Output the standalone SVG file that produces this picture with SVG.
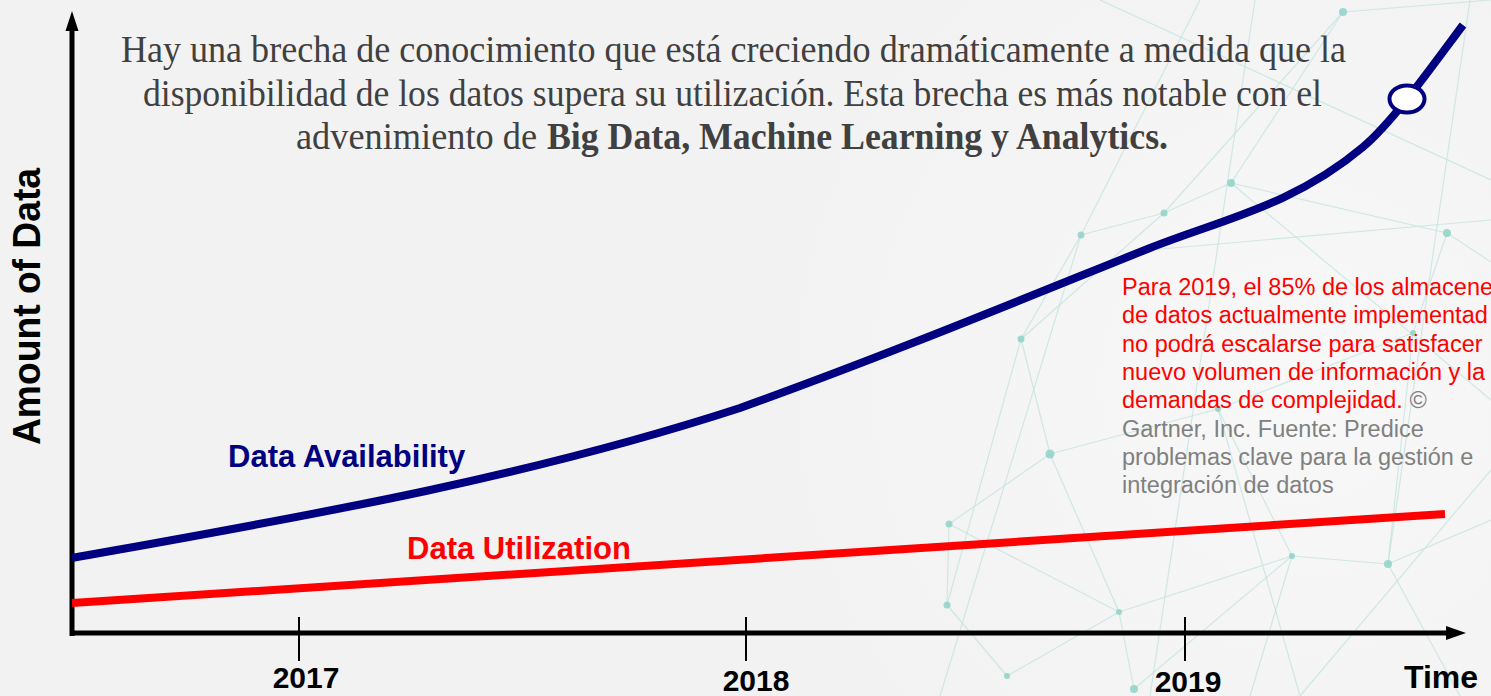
<svg xmlns="http://www.w3.org/2000/svg" width="1491" height="696" viewBox="0 0 1491 696">
<defs>
<radialGradient id="bgGlow" cx="1300" cy="380" r="520" gradientUnits="userSpaceOnUse">
<stop offset="0" stop-color="#f8f8f8"/>
<stop offset="1" stop-color="#f2f2f2"/>
</radialGradient>
</defs>
<style>
.net line{stroke:#bfe3de;stroke-width:1.2;opacity:.7}
.net circle{fill:#8ed2c7;opacity:.85}
.intro{font-family:"Liberation Serif","Times New Roman",serif;font-size:37px;fill:#404040}
.b{font-weight:bold}
.lbl{font-family:"Liberation Sans",Arial,sans-serif;font-weight:bold}
.note{font-family:"Liberation Sans",Arial,sans-serif;font-size:23.5px}
.red{fill:#ff0000}
.gray{fill:#808080}
.axis{stroke:#000;stroke-width:5;fill:none}
.tick{stroke:#000;stroke-width:2}
</style>
<rect id="background" x="0" y="0" width="1491" height="696" fill="url(#bgGlow)"/>
<g id="network" class="net">
<line x1="1081" y1="235" x2="1164" y2="213"/>
<line x1="1164" y1="213" x2="1231" y2="183"/>
<line x1="1231" y1="183" x2="1447" y2="233"/>
<line x1="1231" y1="183" x2="1343" y2="12"/>
<line x1="1164" y1="213" x2="1343" y2="12"/>
<line x1="1081" y1="235" x2="1021" y2="339"/>
<line x1="1021" y1="339" x2="1164" y2="213"/>
<line x1="1021" y1="339" x2="1050" y2="454"/>
<line x1="1050" y1="454" x2="949" y2="524"/>
<line x1="949" y1="524" x2="947" y2="605"/>
<line x1="947" y1="605" x2="1007" y2="676"/>
<line x1="1050" y1="454" x2="1119" y2="612"/>
<line x1="1119" y1="612" x2="1134" y2="689"/>
<line x1="1050" y1="454" x2="1218" y2="409"/>
<line x1="1218" y1="409" x2="1413" y2="333"/>
<line x1="1413" y1="333" x2="1447" y2="233"/>
<line x1="1292" y1="556" x2="1388" y2="564"/>
<line x1="1119" y1="612" x2="1292" y2="556"/>
<line x1="1388" y1="564" x2="1491" y2="520"/>
<line x1="1447" y1="233" x2="1491" y2="262"/>
<line x1="1343" y1="12" x2="1491" y2="0"/>
<line x1="949" y1="524" x2="1119" y2="612"/>
<line x1="1292" y1="556" x2="1218" y2="409"/>
<line x1="1388" y1="564" x2="1413" y2="333"/>
<line x1="1100" y1="0" x2="1491" y2="180"/>
<line x1="1255" y1="0" x2="1150" y2="696"/>
<line x1="940" y1="696" x2="1081" y2="235"/>
<line x1="1300" y1="696" x2="1491" y2="470"/>
<line x1="1470" y1="0" x2="1388" y2="564"/>
<line x1="1231" y1="183" x2="1491" y2="400"/>
<line x1="1150" y1="250" x2="1491" y2="220"/>
<line x1="1007" y1="676" x2="1119" y2="612"/>
<line x1="1134" y1="689" x2="1292" y2="556"/>
<line x1="1388" y1="564" x2="1460" y2="696"/>
<line x1="1292" y1="556" x2="1250" y2="696"/>
<line x1="1218" y1="409" x2="1300" y2="696"/>
<line x1="1081" y1="235" x2="1200" y2="0"/>
<line x1="1021" y1="339" x2="947" y2="605"/>
<circle cx="1343" cy="12" r="4"/>
<circle cx="1231" cy="183" r="4"/>
<circle cx="1164" cy="213" r="3.5"/>
<circle cx="1081" cy="235" r="3.5"/>
<circle cx="1447" cy="233" r="4"/>
<circle cx="1021" cy="339" r="3.5"/>
<circle cx="1413" cy="333" r="3"/>
<circle cx="1050" cy="454" r="4.5"/>
<circle cx="1218" cy="409" r="3"/>
<circle cx="949" cy="524" r="3.5"/>
<circle cx="1292" cy="556" r="3"/>
<circle cx="1388" cy="564" r="4"/>
<circle cx="947" cy="605" r="3.5"/>
<circle cx="1119" cy="612" r="3"/>
<circle cx="1007" cy="676" r="3"/>
<circle cx="1134" cy="689" r="4"/>
</g>
<g id="intro-text">
<text class="intro" x="121" y="62" textLength="1225" lengthAdjust="spacingAndGlyphs">Hay una brecha de conocimiento que está creciendo dramáticamente a medida que la</text>
<text class="intro" x="143" y="106" textLength="1179" lengthAdjust="spacingAndGlyphs">disponibilidad de los datos supera su utilización. Esta brecha es más notable con el</text>
<text class="intro" x="296" y="149" textLength="241" lengthAdjust="spacingAndGlyphs">advenimiento de</text>
<text class="intro b" x="547" y="149" textLength="621" lengthAdjust="spacingAndGlyphs">Big Data, Machine Learning y Analytics.</text>
</g>
<g id="axes">
<line class="axis" x1="72" y1="636" x2="72" y2="28"/>
<polygon points="72,11 65.5,31 78.5,31" fill="#000"/>
<line class="axis" x1="70" y1="633" x2="1450" y2="633"/>
<polygon points="1466,633 1446,626 1446,640" fill="#000"/>
<line class="tick" x1="299" y1="617" x2="299" y2="661"/>
<line class="tick" x1="746" y1="617" x2="746" y2="661"/>
<line class="tick" x1="1185" y1="617" x2="1185" y2="661"/>
<text class="lbl" transform="translate(40,306.5) rotate(-90)" text-anchor="middle" font-size="38" textLength="277" lengthAdjust="spacingAndGlyphs">Amount of Data</text>
<text class="lbl" x="306" y="688" text-anchor="middle" font-size="30">2017</text>
<text class="lbl" x="756" y="691" text-anchor="middle" font-size="30">2018</text>
<text class="lbl" x="1188" y="692" text-anchor="middle" font-size="30">2019</text>
<text class="lbl" x="1404" y="688" font-size="32">Time</text>
</g>
<g id="connectors">
<path id="availability-curve" d="M72,558 C295,518 517,480.5 740,408 C877,359 1013,303 1150,248 C1221,219.6 1293,206 1363,147 C1393,121.8 1433,65.2 1463,25" fill="none" stroke="#000080" stroke-width="8"/>
<line id="utilization-line" x1="72" y1="603" x2="1445" y2="514" stroke="#ff0000" stroke-width="8"/>
</g>
<g id="marker">
<ellipse cx="1407" cy="99" rx="17.5" ry="13.5" fill="#ffffff" stroke="#000080" stroke-width="4"/>
</g>
<g id="labels">
<text class="lbl" x="228" y="467" font-size="31" fill="#000080">Data Availability</text>
<text class="lbl" x="407" y="559" font-size="31" fill="#ff0000">Data Utilization</text>
</g>
<g id="gartner-note" class="note">
<text class="red" x="1122" y="295">Para 2019, el 85% de los almacene</text>
<text class="red" x="1122" y="323.3">de datos actualmente implementad</text>
<text class="red" x="1122" y="351.6">no podrá escalarse para satisfacer</text>
<text class="red" x="1122" y="380">nuevo volumen de información y la</text>
<text x="1122" y="408.3"><tspan class="red">demandas de complejidad.</tspan><tspan class="gray"> ©</tspan></text>
<text class="gray" x="1122" y="436.6">Gartner, Inc. Fuente: Predice</text>
<text class="gray" x="1122" y="465">problemas clave para la gestión e</text>
<text class="gray" x="1122" y="493.3">integración de datos</text>
</g>
</svg>
